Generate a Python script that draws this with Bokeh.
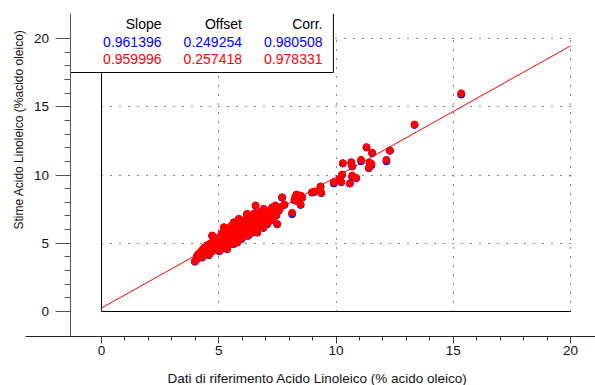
from math import pi
from bokeh.plotting import figure
from bokeh.models import FixedTicker, Grid, Range1d
from bokeh.core.properties import value
from bokeh.embed import file_html
from bokeh.resources import INLINE

# ---------------- data ----------------
ref_x = [3.98, 4.05, 4.08, 4.12, 4.15, 4.20, 4.25, 4.29, 4.32, 4.38,
         4.40, 4.45, 4.50, 4.52, 4.58, 4.60, 4.65, 4.70, 4.72, 4.75,
         4.79, 4.80, 4.82, 4.88, 4.90, 4.95, 5.00, 5.02, 5.05, 5.10,
         5.12, 5.15, 5.20, 5.22, 5.25, 5.30, 5.32, 5.36, 5.40, 5.42,
         5.45, 5.50, 5.52, 5.55, 5.60, 5.62, 5.64, 5.68, 5.70, 5.72,
         5.75, 5.79, 5.80, 5.83, 5.86, 5.88, 5.90, 5.95, 5.98, 6.00,
         6.05, 6.08, 6.10, 6.15, 6.18, 6.21, 6.22, 6.25, 6.30, 6.32,
         6.35, 6.40, 6.42, 6.45, 6.50, 6.52, 6.55, 6.57, 6.57, 6.60,
         6.62, 6.64, 6.68, 6.70, 6.75, 6.78, 6.81, 6.82, 6.85, 6.90,
         6.92, 6.95, 7.00, 7.02, 7.07, 7.07, 7.10, 7.15, 7.20, 7.25,
         7.28, 7.30, 7.35, 7.42, 7.45, 7.49, 7.50, 7.56, 7.63, 7.70,
         7.80, 8.13, 8.23, 8.27, 8.32, 8.38, 8.46, 8.49, 8.49, 8.56,
         8.98, 9.08, 9.34, 9.37, 9.91, 10.17, 10.22, 10.26, 10.29, 10.59,
         10.65, 10.69, 10.69, 10.86, 11.07, 11.30, 11.40, 11.43, 11.51, 11.54,
         12.15, 12.30, 13.35, 15.34]

pred_red = [3.68, 3.82, 4.10, 3.95, 4.25, 4.05, 4.40, 3.98, 4.55, 4.20,
            4.70, 4.35, 4.85, 4.50, 4.15, 4.62, 5.00, 4.40, 5.57, 4.80,
            5.44, 5.10, 4.55, 4.95, 5.30, 4.70, 5.15, 4.45, 5.45, 4.90,
            5.70, 5.25, 4.65, 6.18, 5.55, 5.05, 5.85, 4.59, 5.35, 6.00,
            5.70, 5.10, 6.25, 5.50, 5.85, 4.95, 6.54, 5.30, 6.10, 5.65,
            6.40, 5.08, 5.95, 5.45, 6.79, 6.20, 5.75, 6.50, 5.35, 6.05,
            5.85, 6.65, 6.30, 5.60, 6.85, 7.16, 6.10, 5.57, 6.55, 6.00,
            6.95, 6.25, 5.80, 6.70, 6.40, 7.20, 6.10, 6.18, 7.77, 6.60,
            6.85, 5.81, 7.10, 6.35, 6.70, 7.30, 7.03, 6.45, 6.90, 6.15,
            7.52, 6.75, 7.05, 6.55, 6.42, 7.35, 6.90, 7.20, 6.70, 7.45,
            7.64, 6.95, 7.25, 7.77, 7.05, 6.42, 7.50, 7.40, 7.64, 8.37,
            7.84, 7.23, 8.18, 8.42, 8.57, 8.08, 8.33, 7.84, 8.50, 8.37,
            8.74, 8.79, 9.16, 8.70, 9.48, 9.72, 9.50, 10.04, 10.87, 9.40,
            10.94, 10.65, 9.96, 9.79, 11.11, 12.04, 10.53, 10.90, 10.82, 11.63,
            11.11, 11.80, 13.70, 15.99]

pred_blue = [3.65, 3.79, 4.07, 3.92, 4.22, 4.02, 4.37, 3.95, 4.52, 4.17,
             4.67, 4.32, 4.82, 4.47, 4.12, 4.59, 4.97, 4.37, 5.54, 4.77,
             5.34, 5.07, 4.52, 4.92, 5.27, 4.67, 5.12, 4.42, 5.42, 4.87,
             5.67, 5.22, 4.62, 6.15, 5.52, 5.02, 5.82, 4.56, 5.32, 5.97,
             5.67, 5.07, 6.22, 5.47, 5.82, 4.92, 6.51, 5.27, 6.07, 5.62,
             6.37, 5.05, 5.92, 5.42, 6.76, 6.17, 5.72, 6.47, 5.32, 6.02,
             5.82, 6.62, 6.27, 5.57, 6.82, 7.13, 6.07, 5.54, 6.52, 5.97,
             6.92, 6.22, 5.77, 6.67, 6.37, 7.17, 6.07, 6.15, 7.74, 6.57,
             6.82, 5.78, 7.07, 6.32, 6.67, 7.27, 7.00, 6.42, 6.87, 6.12,
             7.49, 6.72, 7.02, 6.52, 6.39, 7.32, 6.87, 7.17, 6.67, 7.42,
             7.61, 6.92, 7.22, 7.74, 7.02, 6.39, 7.47, 7.37, 7.61, 8.34,
             7.81, 7.13, 8.15, 8.39, 8.54, 8.05, 8.30, 7.81, 8.47, 8.34,
             8.71, 8.76, 9.13, 8.67, 9.38, 9.69, 9.47, 10.01, 10.84, 9.37,
             10.91, 10.62, 9.86, 9.76, 11.01, 12.01, 10.50, 10.87, 10.72, 11.60,
             11.01, 11.77, 13.67, 15.89]

table_headers = ["Slope", "Offset", "Corr."]
slope = [0.961396, 0.959996]     # blue model, red model
offset = [0.249254, 0.257418]
corr = [0.980508, 0.978331]
series_colors = ["#0000FF", "#FF0000"]

major_ticks = [0, 5, 10, 15, 20]
minor_ticks = [1, 2, 3, 4, 6, 7, 8, 9, 11, 12, 13, 14, 16, 17, 18, 19]
grid_ticks = [5, 10, 15, 20]

x_title = "Dati di riferimento Acido Linoleico (% acido oleico)"
y_title = "Stime Acido Linoleico (%acido oleico)"

FONT = "Liberation Sans"

# ---------------- layout constants (data units) ----------------
X_LO, X_HI = -4.307, 21.066      # whole canvas width
Y_LO, Y_HI = -5.421, 22.784      # whole canvas height
Y_AXIS_AT = -1.343               # x position of the vertical axis
X_AXIS_AT = -1.795               # y position of the horizontal axis
AXIS_TOP = 21.795
X_AXIS_LEFT = -3.241

p = figure(width=595, height=385,
           x_range=Range1d(X_LO, X_HI), y_range=Range1d(Y_LO, Y_HI),
           output_backend="svg", toolbar_location=None,
           min_border_left=0, min_border_right=0,
           min_border_top=0, min_border_bottom=0)
p.outline_line_color = None
p.background_fill_color = "white"
p.border_fill_color = "white"

# axes drawn at fixed positions inside the canvas
for ax in (p.xaxis, p.yaxis):
    ax.ticker = FixedTicker(ticks=major_ticks, minor_ticks=minor_ticks)
    ax.major_tick_in = 0
    ax.minor_tick_in = 0
    ax.major_label_text_font = FONT
    ax.major_label_text_font_size = "13.5px"
    ax.major_label_text_color = "#111111"

p.xaxis.fixed_location = X_AXIS_AT
p.xaxis.bounds = (X_AXIS_LEFT, X_HI)
p.xaxis.axis_line_color = "#222222"
p.xaxis.major_tick_line_color = "#333333"
p.xaxis.minor_tick_line_color = "#333333"
p.xaxis.major_tick_out = 7
p.xaxis.minor_tick_out = 4
p.xaxis.major_label_standoff = 3

p.yaxis.fixed_location = Y_AXIS_AT
p.yaxis.bounds = (X_AXIS_AT, AXIS_TOP)
p.yaxis.axis_line_color = "#555555"
p.yaxis.major_tick_line_color = "#555555"
p.yaxis.minor_tick_line_color = "#555555"
p.yaxis.major_tick_out = 15
p.yaxis.minor_tick_out = 6
p.yaxis.major_label_standoff = 6

# dotted grid inside the 0..20 square
p.xgrid.ticker = FixedTicker(ticks=grid_ticks)
p.ygrid.ticker = FixedTicker(ticks=grid_ticks)
for g in (p.xgrid, p.ygrid):
    g.cross_bounds = (major_ticks[0], major_ticks[-1])
    g.grid_line_color = "#111111"
    g.grid_line_dash = "1 8"
    g.grid_line_width = 1

# solid zero lines
for dim in (0, 1):
    p.add_layout(Grid(dimension=dim, ticker=FixedTicker(ticks=[major_ticks[0]]),
                      cross_bounds=(major_ticks[0], major_ticks[-1]),
                      grid_line_color="black", grid_line_width=1))

# regression line of the red model
line_x = [major_ticks[0], major_ticks[-1]]
p.line(line_x, [slope[1] * xx + offset[1] for xx in line_x],
       line_color=series_colors[1], line_width=1)

# points
p.scatter(ref_x, pred_blue, size=7, fill_color=series_colors[0], line_color=series_colors[0])
p.scatter(ref_x, pred_red, size=7, fill_color=series_colors[1], line_color=series_colors[1])

# statistics box (white panel, right and bottom border)
BOX_R, BOX_B = 9.89, 17.51
p.quad(left=[Y_AXIS_AT], right=[BOX_R], bottom=[BOX_B], top=[AXIS_TOP],
       fill_color="white", line_color=None)
p.multi_line(xs=[[Y_AXIS_AT, BOX_R, BOX_R]], ys=[[BOX_B, BOX_B, AXIS_TOP]],
             line_color="black", line_width=1)

col_x = [2.559, 5.991, 9.424]
row_y = [21.03, 19.71, 18.53]
txt_x, txt_y, txt, txt_c = [], [], [], []
for j, h in enumerate(table_headers):
    txt_x.append(col_x[j]); txt_y.append(row_y[0]); txt.append(h); txt_c.append("black")
for i in range(2):
    for j, v in enumerate([slope[i], offset[i], corr[i]]):
        txt_x.append(col_x[j]); txt_y.append(row_y[i + 1])
        txt.append(f"{v:.6f}"); txt_c.append(series_colors[i])
p.text(x=txt_x, y=txt_y, text=txt, text_color=txt_c, text_align="right",
       text_baseline="middle", text_font=value(FONT), text_font_size="14px")

# axis titles
p.text(x=[-3.539], y=[13.33], text=[y_title], angle=pi / 2,
       text_align="center", text_baseline="middle", text_color="#111111",
       text_font=value(FONT), text_font_size="12px")
p.text(x=[9.211], y=[-4.908], text=[x_title],
       text_align="center", text_baseline="middle", text_color="#111111",
       text_font=value(FONT), text_font_size="13.5px")

open("out.html", "w").write(file_html(p, INLINE))
